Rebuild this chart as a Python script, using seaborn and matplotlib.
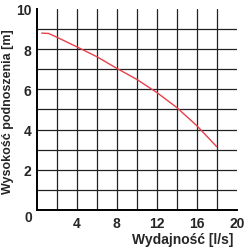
import matplotlib
matplotlib.use("Agg")
import matplotlib.pyplot as plt
import seaborn as sns
import pandas as pd

flow = [0.5, 1.2, 2, 4, 6, 8, 10, 12, 14, 16, 18]
head = [8.8, 8.78, 8.6, 8.12, 7.63, 7.05, 6.5, 5.85, 5.1, 4.2, 3.15]
x_ticks = [4, 8, 12, 16, 20]
y_ticks = [2, 4, 6, 8, 10]
x_grid = [2, 4, 6, 8, 10, 12, 14, 16, 18]
y_grid = [1, 2, 3, 4, 5, 6, 7, 8, 9]

sns.set_style("white")
plt.rcParams['font.family'] = ['Liberation Sans', 'DejaVu Sans']

fig = plt.figure(figsize=(2.47, 2.51), dpi=100)
ax = fig.add_axes([0.1486, 0.1594, 0.8097, 0.8008])

for gx in x_grid:
    ax.axvline(gx, color='#222222', lw=0.9, zorder=1)
for gy in y_grid:
    ax.axhline(gy, color='#222222', lw=0.9, zorder=1)

df = pd.DataFrame({'flow': flow, 'head': head})
sns.lineplot(data=df, x='flow', y='head', ax=ax, color='#e8404a', lw=1.0, zorder=3)

ax.set_xlim(0, 20)
ax.set_ylim(0, 10)
ax.set_xticks(x_ticks)
ax.set_yticks(y_ticks)
ax.set_xticklabels([str(v) for v in x_ticks], fontsize=10, fontweight='bold')
ax.set_yticklabels([str(v) for v in y_ticks], fontsize=10, fontweight='bold')
ax.tick_params(axis='both', length=0)
ax.tick_params(axis='x', pad=4)
ax.tick_params(axis='y', pad=4)

for s in ['top', 'right']:
    ax.spines[s].set_visible(False)
for s in ['left', 'bottom']:
    ax.spines[s].set_color('black')
    ax.spines[s].set_linewidth(1.4)

ax.text(-0.02, -0.035, '0', transform=ax.transAxes, ha='right', va='center',
        fontsize=10, fontweight='bold')

ax.set_xlabel('')
ax.set_ylabel('')
fig.text(0.945, 0.044, 'Wydajność [l/s]', ha='right', va='center',
         fontsize=10, fontweight='bold')
fig.text(0.033, 0.555, 'Wysokość podnoszenia [m]', ha='center', va='center',
         rotation=90, fontsize=9, fontweight='bold')

fig.savefig('out.png', dpi=100)
